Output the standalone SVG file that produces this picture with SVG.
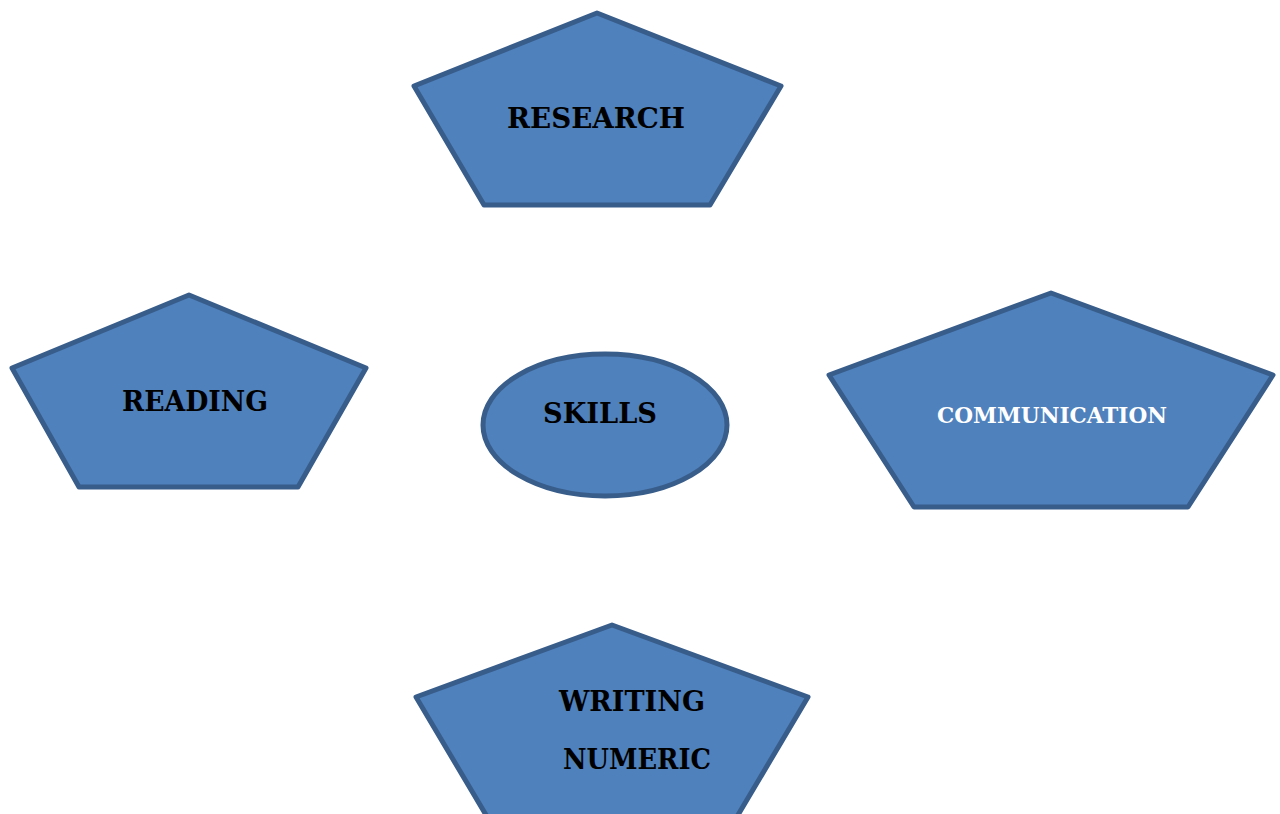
<svg xmlns="http://www.w3.org/2000/svg" width="1280" height="814" viewBox="0 0 1280 814">
<style>
.shape{fill:#4F81BD;stroke:#385D8A;stroke-width:5;stroke-linejoin:round}
.lbl{font-family:"DejaVu Serif","Liberation Serif",serif;font-weight:bold;fill:#000}
.wh{fill:#fff}
</style>
<rect width="1280" height="814" fill="#fff"/>
<g id="connectors"></g>
<g id="research">
<polygon class="shape" points="597,13 414,86 484,205 710,205 781,86"/>
<text class="lbl" x="507" y="128" font-size="27" textLength="178" lengthAdjust="spacingAndGlyphs">RESEARCH</text>
</g>
<g id="reading">
<polygon class="shape" points="189,295 12,368 79,487 298,487 366,368"/>
<text class="lbl" x="122" y="411" font-size="27" textLength="146" lengthAdjust="spacingAndGlyphs">READING</text>
</g>
<g id="skills">
<ellipse class="shape" cx="605" cy="425" rx="122" ry="71"/>
<text class="lbl" x="543" y="423" font-size="27" textLength="114" lengthAdjust="spacingAndGlyphs">SKILLS</text>
</g>
<g id="communication">
<polygon class="shape" points="1051,293 829,375 914,507 1188,507 1273,375"/>
<text class="lbl wh" x="937" y="423" font-size="22" textLength="230" lengthAdjust="spacingAndGlyphs">COMMUNICATION</text>
</g>
<g id="writing">
<polygon class="shape" points="612,625 416,697 489,820 735,820 808,697"/>
<text class="lbl" x="559" y="711" font-size="28" textLength="146" lengthAdjust="spacingAndGlyphs">WRITING</text>
<text class="lbl" x="563" y="769" font-size="28" textLength="148" lengthAdjust="spacingAndGlyphs">NUMERIC</text>
</g>
</svg>
